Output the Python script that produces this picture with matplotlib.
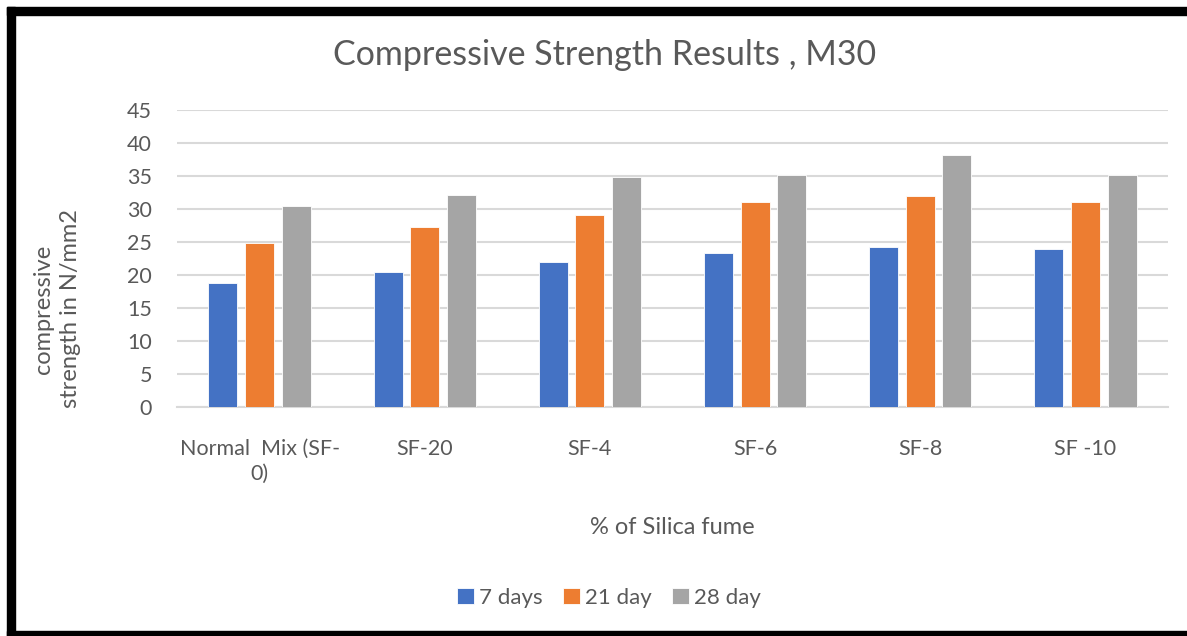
import matplotlib
matplotlib.use("Agg")
import matplotlib.pyplot as plt
from matplotlib.patches import Rectangle
import numpy as np

categories = ["Normal  Mix (SF-\n0)", "SF-20", "SF-4", "SF-6", "SF-8", "SF -10"]
series_names = ["7 days", "21 day", "28 day"]
days7 = [18.8, 20.4, 21.9, 23.4, 24.3, 24.0]
days21 = [24.9, 27.2, 29.1, 31.0, 32.0, 31.0]
days28 = [30.5, 32.1, 34.9, 35.2, 38.2, 35.2]
colors = ["#4472C4", "#ED7D31", "#A5A5A5"]
yticks = [0, 5, 10, 15, 20, 25, 30, 35, 40, 45]

plt.rcParams['font.family'] = ['Lato', 'DejaVu Sans']
txt = "#595959"

W, H = 1187, 636
fig = plt.figure(figsize=(W / 100, H / 100), dpi=100)
ax = fig.add_axes([177 / W, 1 - 407 / H, (1168 - 177) / W, (407 - 110) / H])

x = np.arange(len(categories))
width = 0.175
step = 0.222
for k, (vals, name, c) in enumerate(zip([days7, days21, days28], series_names, colors)):
    ax.bar(x + (k - 1) * step, vals, width, color=c, label=name, zorder=3,
           edgecolor="white", linewidth=0.6)

ax.set_xlim(-0.5, len(categories) - 0.5)
ax.set_ylim(0, 45)
ax.set_yticks(yticks)
ax.set_yticklabels([str(t) for t in yticks])
ax.grid(axis='y', color='#D9D9D9', linewidth=1.5, zorder=0)
for s in ['top', 'right', 'left']:
    ax.spines[s].set_visible(False)
ax.spines['bottom'].set_color('#D9D9D9')
ax.spines['bottom'].set_linewidth(1.5)
ax.tick_params(axis='both', length=0, colors=txt, labelsize=15.5)
ax.tick_params(axis='y', pad=18)
ax.set_xticks(x)
ax.set_xticklabels(categories, color=txt, fontsize=15.5, linespacing=1.3, va='top')
ax.tick_params(axis='x', pad=23)

fig.text(605 / W, 1 - 55 / H, "Compressive Strength Results , M30", ha='center', va='center',
         fontsize=24.5, color=txt)
fig.text(672 / W, 1 - 527 / H, "% of Silica fume", ha='center', va='center',
         fontsize=17, color=txt)
fig.text(57 / W, 1 - 309 / H, "compressive\nstrength in N/mm2", ha='center', va='center',
         rotation=90, fontsize=17, color=txt, linespacing=1.3)

leg = fig.legend(loc='center', bbox_to_anchor=(609 / W, 1 - 598 / H), ncol=3, frameon=False,
                 fontsize=16, handlelength=0.75, handleheight=0.75, handletextpad=0.25,
                 columnspacing=0.9)
for t in leg.get_texts():
    t.set_color(txt)

# black frame (left, top, bottom)
fig.patches.append(Rectangle((7 / W, 0), 8 / W, 1 - 7 / H, transform=fig.transFigure,
                             color='black', zorder=10))
fig.patches.append(Rectangle((7 / W, 1 - 15 / H), 1 - 7 / W, 8 / H, transform=fig.transFigure,
                             color='black', zorder=10))
fig.patches.append(Rectangle((7 / W, 0), 1 - 7 / W, 5 / H, transform=fig.transFigure,
                             color='black', zorder=10))

fig.savefig("out.png", dpi=100)
